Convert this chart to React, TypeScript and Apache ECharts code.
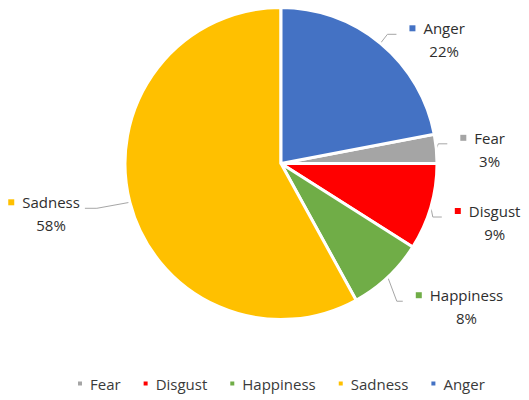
import React, { useEffect, useRef } from 'react';
import * as echarts from 'echarts';

const categories = ['Fear', 'Disgust', 'Happiness', 'Sadness', 'Anger'];
const values = [3, 9, 8, 58, 22];
const colors = ['#A5A5A5', '#FF0000', '#70AD47', '#FFC000', '#4472C4'];

// leader line shape per slice: elbow offset from slice edge [dx, dy], then horizontal length (layout only)
const leaderShapes = [
  [2, -5, 9],
  [2, 10, 9],
  [9, 24, 6],
  [-33, 6, 12],
  [7, -9, 9],
];
const leftSide = [false, false, false, true, false];

const FONT = '"Open Sans", "Noto Sans", sans-serif';
const TEXT = '#2e2e2e';

export default function App() {
  const ref = useRef<HTMLDivElement>(null);
  useEffect(() => {
    if (!ref.current) return;
    const chart = echarts.init(ref.current, undefined, { renderer: 'svg' });
    const data = categories.map((name, i) => ({
      name,
      value: values[i],
      itemStyle: { color: colors[i] },
      label: {
        padding: leftSide[i] ? [11, 0, 0, 0] : [11, 0, 0, 8],
        rich: {
          sq: { width: 6, height: 6, backgroundColor: colors[i] },
          sp: { width: 8 },
          pad: { width: 14, align: 'left' },
          nm: { fontSize: 15, fontFamily: FONT, color: TEXT, lineHeight: 23 },
          pct: { fontSize: 15, fontFamily: FONT, color: TEXT, lineHeight: 23, align: 'center' },
        },
      },
    }));
    chart.setOption({
      animation: false,
      backgroundColor: '#ffffff',
      legend: {
        data: categories,
        left: 71,
        top: 371,
        icon: 'rect',
        itemWidth: 6,
        itemHeight: 6,
        itemGap: 21,
        textStyle: { fontSize: 15, fontFamily: FONT, color: '#3a3a3a', padding: [0, 0, 0, 2] },
      },
      series: [
        {
          type: 'pie',
          center: [281, 163.5],
          radius: 156,
          startAngle: 10.8,
          clockwise: true,
          avoidLabelOverlap: false,
          itemStyle: { borderColor: '#ffffff', borderWidth: 3 },
          label: {
            show: true,
            position: 'outside',
            fontSize: 15,
            fontFamily: FONT,
            color: TEXT,
            lineHeight: 23,
            bleedMargin: 0,
            distanceToLabelLine: 5,
            formatter: (p: any) => `{sq|}{sp|}{nm|${p.name}}\n{pad|}{pct|${p.value}%}`,
          },
          labelLine: {
            show: true,
            length: 5,
            length2: 5,
            smooth: false,
            lineStyle: { color: '#A6A6A6', width: 1 },
          },
          labelLayout: (params: any) => {
            const i = params.dataIndex;
            const pts = params.labelLinePoints;
            if (!pts || !pts[0]) return {};
            const p0 = pts[0];
            const [ex, ey, l2] = leaderShapes[i];
            const dir = leftSide[i] ? -1 : 1;
            const p1 = [p0[0] + ex, p0[1] + ey];
            const p2 = [p1[0] + dir * l2, p1[1]];
            return {
              x: p2[0] + dir * 5,
              y: p2[1],
              labelLinePoints: [p0, p1, p2],
            };
          },
          emphasis: { disabled: true },
          data,
        },
      ],
    });
    return () => chart.dispose();
  }, []);
  return (
    <div
      ref={ref}
      style={{ position: 'fixed', left: 0, top: 0, width: 529, height: 400 }}
    />
  );
}
